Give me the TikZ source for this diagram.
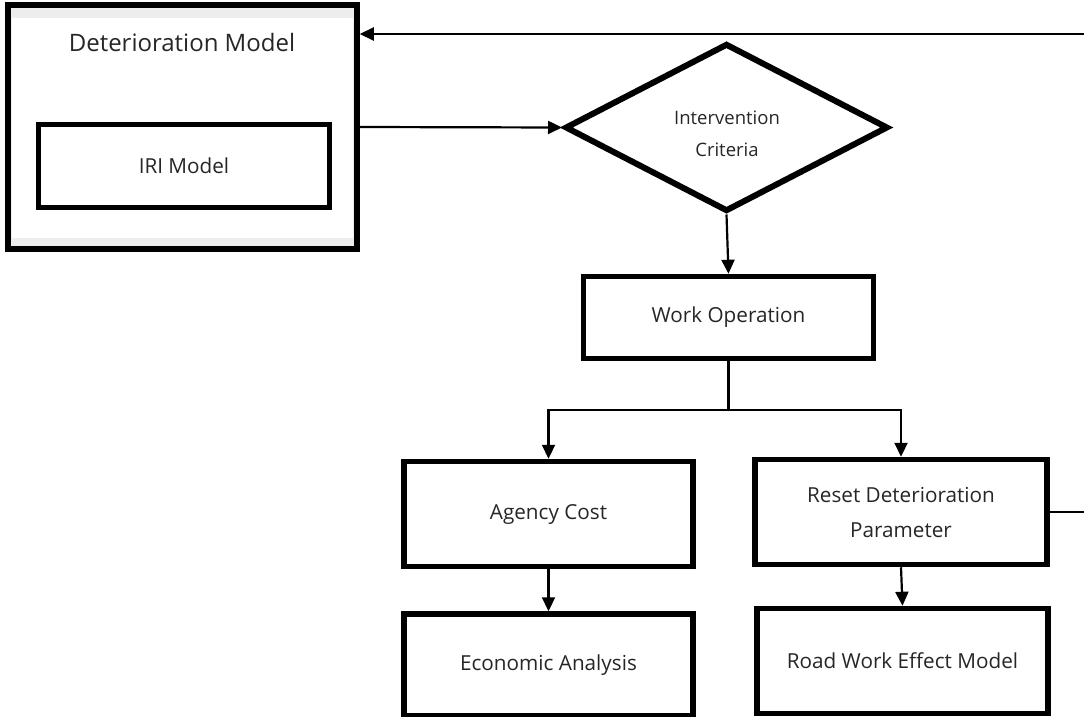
\documentclass[tikz,border=0pt]{standalone}
\usepackage{fontspec}
\setmainfont{Open Sans}
\usetikzlibrary{arrows.meta,shapes.geometric,calc}
\begin{document}
\begin{tikzpicture}[x=1pt,y=-1pt,
  box/.style={draw=black,line width=5.5pt,rectangle,inner sep=0pt,font=\fontsize{20.7}{26}\selectfont,text=black!85,align=center},
  conn/.style={line width=2.2pt},
  arr/.style={conn,-{Triangle[length=14pt,width=13pt]}}]
\useasboundingbox (0,0) rectangle (1084,717);
% Deterioration model outer box
\node[box,fill=black!7,minimum width=349pt,minimum height=244pt] (dm) at (182.5,127) {};
\fill[white] (12,18) rectangle (353,238);
\node[font=\fontsize{24}{26}\selectfont,text=black!85] (dmt) at (182,43) {Deterioration Model};
\node[box,fill=white,minimum width=291pt,minimum height=83pt] (iri) at (184,166) {IRI Model};
% diamond
\node[draw=black,line width=6pt,diamond,inner sep=0pt,minimum width=323pt,minimum height=168pt] (ic) at (726.5,127.5) {};
\node[font=\fontsize{18.5}{32}\selectfont,text=black!85,align=center] (ict) at (727,134) {Intervention\\Criteria};
% boxes
\node[box,minimum width=290pt,minimum height=82pt] (wo) at (728.5,317.5) {Work Operation};
\node[box,minimum width=289pt,minimum height=105pt] (ac) at (548.5,514) {Agency Cost};
\node[box,minimum width=289pt,minimum height=102pt] (ea) at (548.5,665) {Economic Analysis};
\node[box,minimum width=292pt,minimum height=105pt,font=\fontsize{20.7}{35}\selectfont] (rs) at (901,512) {Reset Deterioration\\Parameter};
\node[box,minimum width=291pt,minimum height=105pt] (rw) at (902.5,661) {Road Work Effect Model};
% connectors
\coordinate (fbt) at (1090,34);
\coordinate (fbr) at (rs.east -| fbt);
\coordinate (fbl) at (fbt -| dm.east);
\draw[arr] (dm.east) -- (ic.west);
\draw[arr] (ic.south) -- (wo.north);
\draw[arr] (wo.south) -- ++(0,49) -| (ac.north);
\draw[arr] (wo.south) -- ++(0,49) -| (rs.north);
\draw[arr] (ac.south) -- (ea.north);
\draw[arr] (rs.south) -- (rw.north);
\draw[arr] (rs.east) -- (fbr) -- (fbt) -- (fbl);
\end{tikzpicture}
\end{document}
